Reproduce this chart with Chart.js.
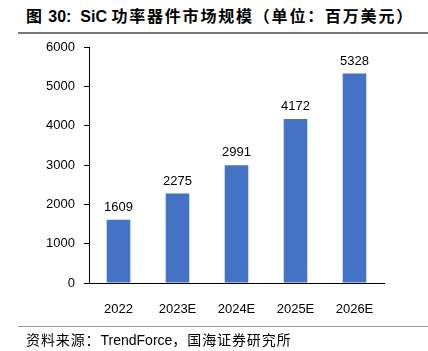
<!DOCTYPE html>
<html lang="zh">
<head>
  <meta charset="UTF-8" />
  <title>SiC 功率器件市场规模</title>
  <style>
    body {
      margin: 0;
      background: #fff;
      font-family: "Liberation Sans", "Noto Sans CJK SC", sans-serif;
    }
    .wrap {
      position: relative;
      width: 428px;
      height: 351px;
      overflow: hidden;
    }
    .title {
      position: absolute;
      left: 26px;
      top: 3px;
      font-size: 16px;
      font-weight: bold;
      color: #000;
      white-space: nowrap;
    }
    .title .cjk {
      letter-spacing: 1.8px;
    }
    .topline {
      position: absolute;
      left: 18px;
      right: 0;
      top: 32px;
      height: 2px;
      background: #777;
    }
    .bottomline {
      position: absolute;
      left: 18px;
      right: 0;
      top: 326px;
      height: 1px;
      background: #999;
    }
    .source {
      position: absolute;
      left: 26px;
      top: 329px;
      font-size: 14px;
      color: #000;
      white-space: nowrap;
    }
    .source .cjk {
      letter-spacing: 0.9px;
    }
    canvas {
      position: absolute;
      left: 0;
      top: 0;
    }
  </style>
  <script src="https://cdn.jsdelivr.net/npm/chart.js"></script>
</head>
<body>
  <div class="wrap">
    <div class="title"><span class="cjk">图</span> 30:&nbsp; SiC <span class="cjk">功率器件市场规模（单位：百万美元）</span></div>
    <div class="topline"></div>
    <canvas id="chart" width="428" height="351"></canvas>
    <div class="bottomline"></div>
    <div class="source"><span class="cjk">资料来源：</span>TrendForce<span class="cjk">，国海证券研究所</span></div>
  </div>

  <script>
    const years = ["2022", "2023E", "2024E", "2025E", "2026E"];
    const marketSize = [1609, 2275, 2991, 4172, 5328];
    const yTicks = [0, 1000, 2000, 3000, 4000, 5000, 6000];

    // value labels above each bar
    const barLabels = {
      id: "barLabels",
      afterDatasetsDraw(chart) {
        const ctx = chart.ctx;
        const meta = chart.getDatasetMeta(0);
        ctx.save();
        ctx.font = "13px 'Liberation Sans', sans-serif";
        ctx.fillStyle = "#000";
        ctx.textAlign = "center";
        ctx.textBaseline = "bottom";
        meta.data.forEach((bar, i) => {
          ctx.fillText(marketSize[i], bar.x, bar.y - 6);
        });
        ctx.restore();
      }
    };

    new Chart(document.getElementById("chart"), {
      type: "bar",
      data: {
        labels: years,
        datasets: [{
          data: marketSize,
          backgroundColor: "#4472C4",
          categoryPercentage: 1,
          barPercentage: 0.4
        }]
      },
      options: {
        responsive: false,
        animation: false,
        layout: { padding: { left: 0, right: 44, top: 47, bottom: 0 } },
        plugins: {
          legend: { display: false },
          tooltip: { enabled: false }
        },
        scales: {
          x: {
            grid: { display: false },
            border: { color: "#000", width: 1 },
            ticks: {
              color: "#000",
              font: { size: 13, family: "'Liberation Sans', sans-serif" },
              padding: 11
            },
            afterFit(scale) { scale.height = 68; }
          },
          y: {
            min: 0,
            max: 6000,
            afterBuildTicks(scale) {
              scale.ticks = yTicks.map(v => ({ value: v }));
            },
            grid: {
              drawOnChartArea: false,
              drawTicks: true,
              tickLength: 5,
              color: "#000"
            },
            border: { color: "#000", width: 1 },
            ticks: {
              color: "#000",
              font: { size: 13, family: "'Liberation Sans', sans-serif" },
              padding: 9,
              callback: v => String(v)
            },
            afterFit(scale) { scale.width = 89; }
          }
        }
      },
      plugins: [barLabels]
    });
  </script>
</body>
</html>
